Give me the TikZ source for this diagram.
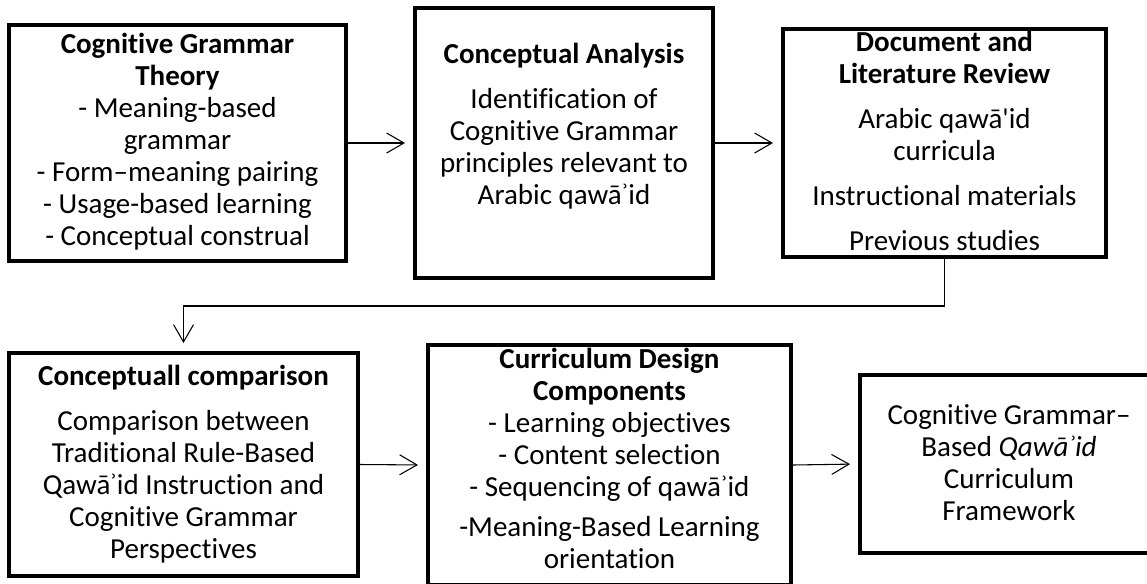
\documentclass[tikz,border=0pt]{standalone}
\usepackage{fontspec}
\setmainfont{Carlito}[Ligatures={NoCommon}]
\usetikzlibrary{arrows.meta,fit}
\newcommand{\straightquote}{\XeTeXglyph\XeTeXcharglyph"27\relax}
\begin{document}
\begin{tikzpicture}[x=0.75pt,y=-0.75pt,
  box/.style={draw=black, line width=3pt, inner sep=0pt, fill=none},
  txt/.style={align=center, inner sep=0pt, anchor=base, font=\fontsize{21.75}{24}\selectfont},
  arr/.style={draw=black, line width=0.8pt, -{Straight Barb[length=13pt,width=15pt,line width=0.8pt]}, shorten >=6pt}]
\clip (0,0) rectangle (1147,583);
\fill[white] (0,0) rectangle (1147,583);
% boxes
\node[box, fit={(9,25) (346,261)}] (b1) {};
\node[box, fit={(415,8) (713,278)}] (b2) {};
\node[box, fit={(783,29) (1106,257)}] (b3) {};
\node[box, fit={(9,353) (358,576)}] (b4) {};
\node[box, fit={(428,345) (791,585)}] (b5) {};
\node[box, fit={(860,375) (1158,553)}] (b6) {};
% texts (anchored at the baseline of the last line)
\node[txt] (t1) at (177.5,245) {\textbf{Cognitive Grammar}\\\textbf{Theory}\\- Meaning-based\\grammar\\- Form–meaning pairing\\- Usage-based learning\\- Conceptual construal};
\node[txt] (t2) at (564,204) {\textbf{Conceptual Analysis}\\[9.75pt]Identification of\\Cognitive Grammar\\principles relevant to\\Arabic qawāʾid};
\node[txt] (t3) at (944.5,250) {\textbf{Document and}\\\textbf{Literature Review}\\[9.75pt]Arabic qawā\straightquote id\\curricula\\[9.75pt]Instructional materials\\[9.75pt]Previous studies};
\node[txt] (t4) at (183.5,558) {\textbf{Conceptuall comparison}\\[9.75pt]Comparison between\\Traditional Rule-Based\\Qawāʾid Instruction and\\Cognitive Grammar\\Perspectives};
\node[txt] (t5) at (609.5,568) {\textbf{Curriculum Design}\\\textbf{Components}\\- Learning objectives\\- Content selection\\- Sequencing of qawāʾid\\[6pt]-Meaning-Based Learning\\orientation};
\node[txt] (t6) at (1009,520) {Cognitive Grammar–\\Based \textit{Qawāʾid}\\Curriculum\\Framework};
% connectors
\draw[arr] (b1.east) -- (b2.west);
\draw[arr] (b2.east) -- (b3.west);
\draw[arr] (b3.south) -- ++(0,47) -| (b4.north);
\draw[arr] (b4.east) -- (b5.west);
\draw[arr] (b5.east) -- (b6.west);
\end{tikzpicture}
\end{document}
